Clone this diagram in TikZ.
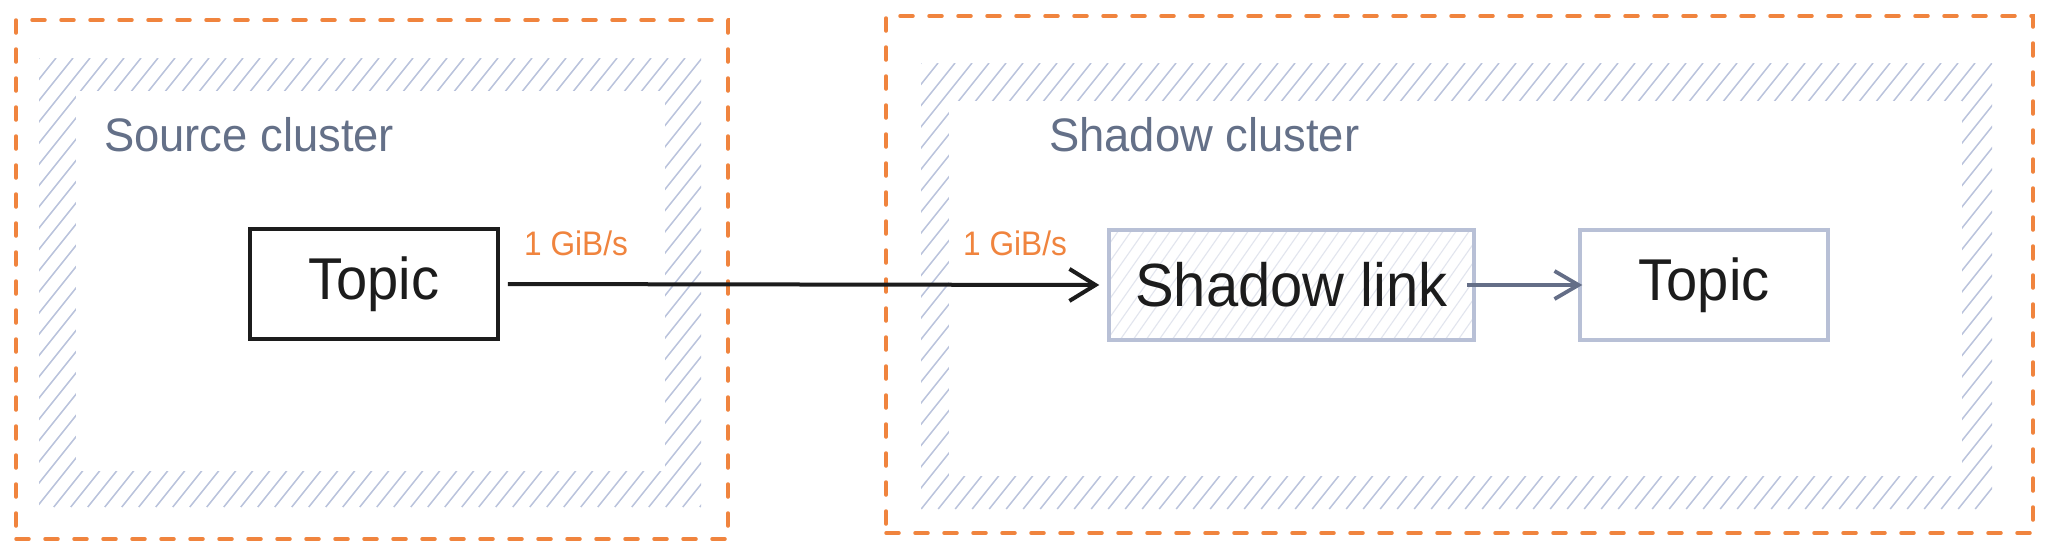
\documentclass[tikz,border=0pt]{standalone}
\usepackage{fontspec}
\usepackage{graphicx}
\setmainfont{Liberation Sans}
\usetikzlibrary{arrows.meta}
\definecolor{orangeC}{RGB}{240,132,62}
\definecolor{hatchC}{RGB}{186,195,220}
\definecolor{lightHatchC}{RGB}{226,229,238}
\definecolor{boxBorder}{RGB}{184,192,214}
\definecolor{labelGray}{RGB}{100,112,136}
\definecolor{arrowGray}{RGB}{100,110,135}
\definecolor{inkC}{RGB}{28,28,28}
\newcommand\hatchband[8]{%
  \pgfmathsetmacro\hbH{#4-#2}%
  \pgfmathsetmacro\hbS{#1-0.8*\hbH}%
  \pgfmathsetmacro\hbT{\hbS+17}%
  \begin{scope}
    \clip (#1,#2) rectangle (#3,#4);
    \foreach \xx in {\hbS,\hbT,...,#3} \draw[hatchline] (\xx,#4) -- ++(0.8*\hbH,-\hbH);
  \end{scope}
  \fill[white] (#5,#6) rectangle (#7,#8);}
\newcommand\narrow[2][0.95]{\scalebox{#1}[1]{#2}}
\tikzset{
  hatchline/.style={draw=hatchC, line width=1.5pt},
  lighthatch/.style={draw=lightHatchC, line width=1.1pt},
  frame/.style={draw=orangeC, line width=3.5pt, dash pattern=on 13pt off 16pt, line cap=round, inner sep=0pt},
  cluslabel/.style={text=labelGray, font=\fontsize{47pt}{52pt}\selectfont, inner sep=0pt},
  ratelabel/.style={text=orangeC, font=\fontsize{34pt}{38pt}\selectfont, inner sep=0pt},
  topicbox/.style={draw=inkC, line width=3.8pt, fill=white, minimum width=248pt, minimum height=110pt, inner sep=0pt, font=\fontsize{59pt}{64pt}\selectfont, text=inkC},
  graybox/.style={draw=boxBorder, line width=3.5pt, fill=white, minimum width=248pt, minimum height=110pt, inner sep=0pt, font=\fontsize{59pt}{64pt}\selectfont, text=inkC},
  linkbox/.style={draw=boxBorder, line width=3.5pt, fill=white, minimum width=365pt, minimum height=110pt, inner sep=0pt, font=\fontsize{61pt}{66pt}\selectfont, text=inkC,
    path picture={\foreach \i in {0,...,36} \draw[lighthatch] (path picture bounding box.south west) ++(\i*13-80,0) -- ++(77,-110);}},
  flow/.style={draw=inkC, line width=4pt, -{Straight Barb[length=26pt,width=32pt]}},
  grayflow/.style={draw=arrowGray, line width=3.8pt, -{Straight Barb[length=24pt,width=28pt]}}
}
\begin{document}
\begin{tikzpicture}[x=1pt,y=-1pt]
\useasboundingbox (0,0) rectangle (2048,555);
\fill[white] (0,0) rectangle (2048,555);
% hatched cluster bands
\hatchband{39}{58}{701}{507}{76}{91}{665}{471}
\hatchband{921}{63}{1992}{509}{949}{101}{1962}{476}
% orange dashed frames
\node[frame, minimum width=712pt, minimum height=519pt] (srcFrame) at (372,279.5) {};
\node[frame, minimum width=1147pt, minimum height=517pt] (shdFrame) at (1459.5,274.5) {};
% cluster labels
\node[cluslabel, anchor=base west] (srcLabel) at (104,151) {\narrow[0.965]{Source cluster}};
\node[cluslabel, anchor=base west] (shdLabel) at (1049,151) {\narrow[0.965]{Shadow cluster}};
% boxes
\node[topicbox] (topicA) at (374,284) {\narrow{Topic}};
\node[linkbox] (link) at (1291.5,285) {\narrow{Shadow link}};
\node[graybox] (topicB) at (1704,285) {\narrow{Topic}};
% rate labels
\node[ratelabel, anchor=base west] (rateA) at (524,255.5) {\narrow[0.93]{1 GiB/s}};
\node[ratelabel, anchor=base west] (rateB) at (963,255.5) {\narrow[0.93]{1 GiB/s}};
% connectors
\draw[flow, shorten <=8pt, shorten >=8pt] (topicA.east) -- (link.west);
\draw[grayflow, shorten <=-9pt, shorten >=-4pt] (link.east) -- (topicB.west);
\end{tikzpicture}
\end{document}
